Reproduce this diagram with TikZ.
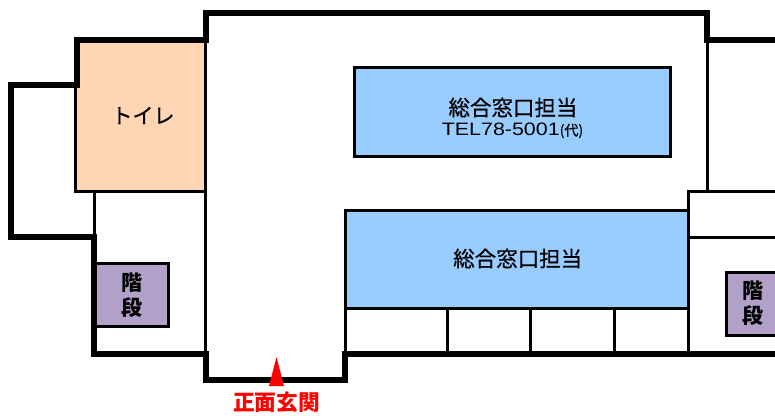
\documentclass[tikz,border=0pt]{standalone}
\usepackage{fontspec}
\setmainfont{Liberation Sans}
\newfontfamily\cjk{Noto Sans CJK JP}
\newfontfamily\cjkm[FakeBold=0.5]{Noto Sans CJK JP}
\newfontfamily\telfont[FakeStretch=1.19]{Liberation Sans}
\definecolor{toiletfill}{HTML}{FFD5B4}
\definecolor{deskfill}{HTML}{99CCFF}
\definecolor{stairfill}{HTML}{B1A0C7}
\tikzset{
  wall/.style={line width=6pt,line cap=butt,line join=miter},
  thinwall/.style={line width=3pt},
  lbl/.style={font=\cjkm\fontsize{21.5}{24}\selectfont,inner sep=0pt,align=center},
}
\begin{document}
\begin{tikzpicture}[x=1pt,y=-1pt]
\useasboundingbox (0,0) rectangle (775,415);
% filled rooms
\filldraw[fill=toiletfill,draw=black,line width=3pt] (75.5,40) rectangle (205,191.5);
\filldraw[fill=deskfill,draw=black,line width=3pt] (354.5,67) rectangle (670,156);
\filldraw[fill=deskfill,draw=black,line width=3pt] (345.5,210) rectangle (688,308);
\filldraw[fill=stairfill,draw=black,line width=3pt] (94,263.5) rectangle (168.5,326);
\filldraw[fill=stairfill,draw=black,line width=3pt] (726,272.7) rectangle (778,335);
% thin walls
\draw[thinwall] (205,40) -- (205,354);
\draw[thinwall] (94.5,191) -- (94.5,237);
\draw[thinwall] (707,40) -- (707,191);
\draw[thinwall] (688,235) -- (688,191.5) -- (775,191.5);
\draw[thinwall] (688,237) -- (775,237);
\draw[thinwall] (688,308) -- (688,354);
\draw[thinwall] (345.5,308) -- (345.5,354);
\draw[thinwall] (447.5,308) -- (447.5,354);
\draw[thinwall] (530.7,308) -- (530.7,354);
\draw[thinwall] (614.5,308) -- (614.5,354);
% thick walls
\draw[wall] (94,236.5) -- (11,236.5) -- (11,85) -- (76.5,85) -- (76.5,40) -- (206,40) -- (206,13) -- (707,13) -- (707,40) -- (775,40);
\draw[wall] (94,234) -- (94,354) -- (206,354) -- (206,380) -- (345,380) -- (345,354) -- (775,354);
% entrance
\fill[red] (276.5,357) -- (284,386) -- (269,386) -- cycle;
% labels
\node[lbl,font=\cjkm\fontsize{21}{24}\selectfont] (toilet) at (143,115.5) {トイレ};
\node[lbl] (desk1) at (513,107.5) {総合窓口担当};
\node[inner sep=0pt,font=\telfont\fontsize{18}{20}\selectfont] (tel) at (512.5,130.5) {TEL78-5001{\cjkm\fontsize{14}{16}\selectfont (代)}};
\node[lbl] (desk2) at (517.7,258.5) {総合窓口担当};
\node[lbl,font=\cjk\bfseries\fontsize{21}{25.5}\selectfont] (stairs1) at (131.5,295) {階\\段};
\node[lbl,font=\cjk\bfseries\fontsize{21}{25.5}\selectfont] (stairs2) at (753,303) {階\\段};
\node[lbl,text=red,font=\cjk\bfseries\fontsize{21.7}{24}\selectfont] (entrance) at (276.5,402) {正面玄関};
\end{tikzpicture}
\end{document}
